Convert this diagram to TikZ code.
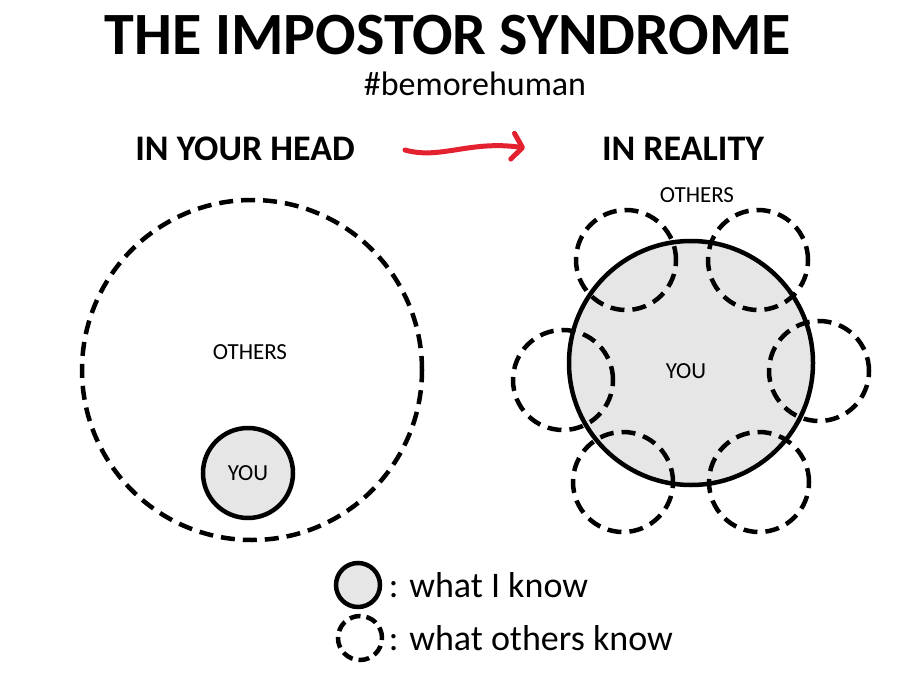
\documentclass[tikz,border=0pt]{standalone}
\usepackage{fontspec}
\setmainfont{Carlito}
\usepackage{tikz}
\usetikzlibrary{arrows.meta,positioning}
\definecolor{knowgray}{HTML}{E6E6E6}
\definecolor{arrowred}{HTML}{E3212F}
\tikzstyle{mine}=[circle,draw=black,line width=4.5,fill=knowgray,inner sep=0]
\tikzstyle{theirs}=[circle,draw=black,line width=4.5,dash pattern=on 14pt off 8pt,inner sep=0]
\tikzstyle{small}=[font=\fontsize{23}{25}\selectfont]
\tikzstyle{heading}=[font=\fontsize{36}{38}\selectfont\bfseries]
\tikzstyle{legend}=[font=\fontsize{36}{38}\selectfont,anchor=west]

\begin{document}
\begin{tikzpicture}[x=1pt,y=-1pt]
		\useasboundingbox (0,0) rectangle (902,682);
		\node[font=\fontsize{60}{62}\selectfont\bfseries,inner sep=0,anchor=base]	(title)	at (448,55)	{THE IMPOSTOR SYNDROME};
		\node[font=\fontsize{34}{36}\selectfont,inner sep=0,anchor=base]	(tag)	at (475,96)	{\#bemorehuman};
		
		\node[heading]	(head)	at (245,149)	{IN YOUR HEAD};
		\node[heading]	(real)	at (683,149)	{IN REALITY};
		\coordinate (arrS) at (405,150);
		\coordinate (arrE) at (525,148);
		\draw[arrowred,line width=5,line cap=round,-{Straight Barb[length=10pt,width=26pt,round]}]
			(arrS) .. controls (440,160) and (470,140) .. (arrE);
		
		% in your head
		\node[theirs,minimum size=340]	(others)	at (252,370)	{};
		\node[small]	(othersL)	at (250,352)	{OTHERS};
		\node[mine,minimum size=90,small]	(you)	at (248,473)	{YOU};
		
		% in reality
		\node[circle,fill=knowgray,minimum size=244,inner sep=0]	(meFill)	at (691,363)	{};
		\node[theirs,minimum size=100]	(o1)	at (626,260)	{};
		\node[theirs,minimum size=100]	(o2)	at (758,260)	{};
		\node[theirs,minimum size=100]	(o3)	at (563,380)	{};
		\node[theirs,minimum size=100]	(o4)	at (819,371)	{};
		\node[theirs,minimum size=100]	(o5)	at (623,482)	{};
		\node[theirs,minimum size=100]	(o6)	at (759,482)	{};
		\node[circle,draw=black,line width=4.5,minimum size=244,inner sep=0]	(me)	at (691,363)	{};
		\node[small]	(meL)	at (686,371)	{YOU};
		\node[small]	(othersR)	at (697,195)	{OTHERS};
		
		% legend
		\node[mine,minimum size=44]	(keyMine)	at (358,585)	{};
		\node[theirs,minimum size=44,dash pattern=on 11pt off 6pt]	(keyTheirs)	at (360,638)	{};
		\node[legend]	(keyMineL)	[right=3pt of keyMine]	{: what I know};
		\node[legend]	(keyTheirsL)	[right=1pt of keyTheirs]	{: what others know};
	\end{tikzpicture}
\end{document}
